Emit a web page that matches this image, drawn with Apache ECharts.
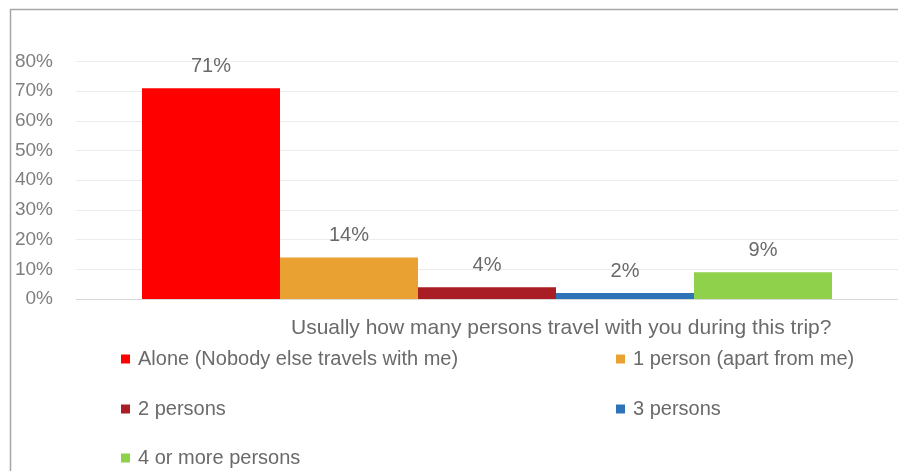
<!DOCTYPE html>
<html>
<head>
<meta charset="utf-8">
<script src="https://cdn.jsdelivr.net/npm/echarts@6/dist/echarts.min.js"></script>
<style>
  html, body { margin: 0; padding: 0; background: #fff; }
  #chart { width: 898px; height: 471px; }
</style>
</head>
<body>
<div id="chart"></div>
<script>
// Survey answers: share of respondents by travel party size
const seriesNames = [
  'Alone (Nobody else travels with me)',
  '1 person (apart from me)',
  '2 persons',
  '3 persons',
  '4 or more persons'
];
const seriesValues = [71, 14, 4, 2, 9];
const seriesColors = ['#FF0000', '#E9A232', '#A81E24', '#2E72B8', '#8FD14B'];
const categories = ['Usually how many persons travel with you during this trip?'];
const yTicks = { min: 0, max: 80, interval: 10 };

const FONT = '"Liberation Sans", sans-serif';
const TEXT_GREY = '#6a6a6a';

const chart = echarts.init(document.getElementById('chart'));

// One legend block per entry, laid out in two columns
const legendPos = [
  { left: 121, top: 349 },
  { left: 616, top: 349 },
  { left: 121, top: 399 },
  { left: 616, top: 399 },
  { left: 121, top: 448 }
];
const legends = seriesNames.map((name, i) => ({
  data: [name],
  left: legendPos[i].left,
  top: legendPos[i].top,
  padding: 0,
  icon: 'rect',
  itemWidth: 9,
  itemHeight: 9,
  selectedMode: false,
  textStyle: { fontFamily: FONT, fontSize: 20, color: TEXT_GREY, padding: [0, 0, 0, 3] }
}));

const series = seriesNames.map((name, i) => ({
  name: name,
  type: 'bar',
  data: [seriesValues[i]],
  barWidth: 138,
  barGap: '0%',
  itemStyle: { color: seriesColors[i] },
  label: {
    show: true,
    position: 'top',
    distance: 12,
    formatter: '{c}%',
    fontFamily: FONT,
    fontSize: 20,
    color: TEXT_GREY
  }
}));

chart.setOption({
  animation: false,
  backgroundColor: '#ffffff',
  graphic: [{
    type: 'rect',
    shape: { x: 10.5, y: 9.5, width: 900, height: 480 },
    style: { fill: 'none', stroke: '#a6a6a6', lineWidth: 1.5 },
    silent: true
  }],
  title: {
    text: categories[0],
    left: 291,
    top: 318,
    padding: 0,
    textStyle: { fontFamily: FONT, fontSize: 21, fontWeight: 'normal', color: TEXT_GREY }
  },
  legend: legends,
  grid: { left: 76, top: 61.5, right: 0, height: 237.5, containLabel: false },
  xAxis: {
    type: 'category',
    data: categories,
    axisLine: { show: true, lineStyle: { color: '#d9d9d9' } },
    axisTick: { show: false },
    axisLabel: { show: false }
  },
  yAxis: {
    type: 'value',
    min: yTicks.min,
    max: yTicks.max,
    interval: yTicks.interval,
    axisLine: { show: false },
    axisTick: { show: false },
    splitLine: { lineStyle: { color: '#ececec' } },
    axisLabel: {
      formatter: '{value}%',
      margin: 23,
      fontFamily: FONT,
      fontSize: 19,
      color: '#7f7f7f'
    }
  },
  series: series
});
</script>
</body>
</html>
